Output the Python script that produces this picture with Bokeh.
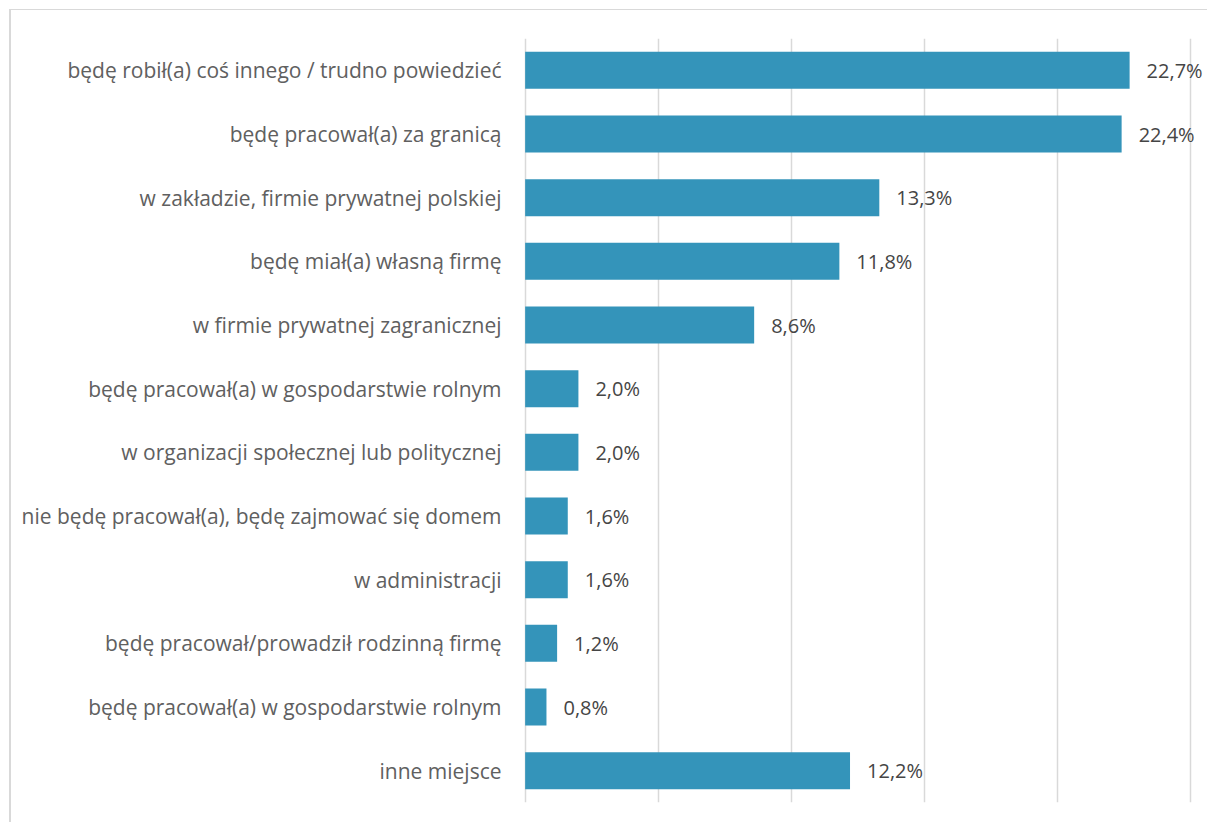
from bokeh.plotting import figure
from bokeh.models import Range1d, FixedTicker, ColumnDataSource
from bokeh.core.properties import value
from bokeh.embed import file_html
from bokeh.resources import INLINE

categories = [
    "będę robił(a) coś innego / trudno powiedzieć",
    "będę pracował(a) za granicą",
    "w zakładzie, firmie prywatnej polskiej",
    "będę miał(a) własną firmę",
    "w firmie prywatnej zagranicznej",
    "będę pracował(a) w gospodarstwie rolnym",
    "w organizacji społecznej lub politycznej",
    "nie będę pracował(a), będę zajmować się domem",
    "w administracji",
    "będę pracował/prowadził rodzinną firmę",
    "będę pracował(a) w gospodarstwie rolnym",
    "inne miejsce",
]
values = [22.7, 22.4, 13.3, 11.8, 8.6, 2.0, 2.0, 1.6, 1.6, 1.2, 0.8, 12.2]
x_ticks = [0, 5, 10, 15, 20, 25]

idx = list(range(len(categories)))
labels = [f"{v:.1f}".replace(".", ",") + "%" for v in values]
src = ColumnDataSource(dict(y=idx, v=values, lab=labels))

p = figure(width=1198, height=813, output_backend="svg", toolbar_location=None,
           x_range=Range1d(-0.1, 25.7), y_range=Range1d(len(categories) - 0.5, -0.5),
           min_border_left=511, min_border_right=0, min_border_top=28, min_border_bottom=21)
p.margin = (9, 0, 0, 9)
p.styles = {"border-left": "2px solid #d9d9d9", "border-top": "1px solid #d9d9d9"}
p.outline_line_color = None
p.background_fill_color = "white"

p.hbar(y="y", right="v", left=0, height=0.58, source=src,
       fill_color="#3494BA", line_color=None)
p.text(x="v", y="y", text="lab", source=src, x_offset=17,
       text_baseline="middle", text_align="left",
       text_font=value("Open Sans"), text_font_size="20px", text_color="#454545")

p.xaxis.visible = False
p.xaxis.ticker = FixedTicker(ticks=x_ticks)
p.xgrid.ticker = FixedTicker(ticks=x_ticks)
p.xgrid.grid_line_color = "#d9d9d9"
p.xgrid.grid_line_width = 1.5
p.ygrid.visible = False

yax = p.yaxis[0]
yax.ticker = FixedTicker(ticks=idx)
yax.major_label_overrides = {i: c for i, c in zip(idx, categories)}
yax.axis_line_color = None
yax.major_tick_line_color = None
yax.minor_tick_line_color = None
yax.major_label_standoff = 15
yax.major_label_text_font = "Open Sans"
yax.major_label_text_font_size = "21px"
yax.major_label_text_color = "#606060"

open("out.html", "w").write(file_html(p, INLINE))
